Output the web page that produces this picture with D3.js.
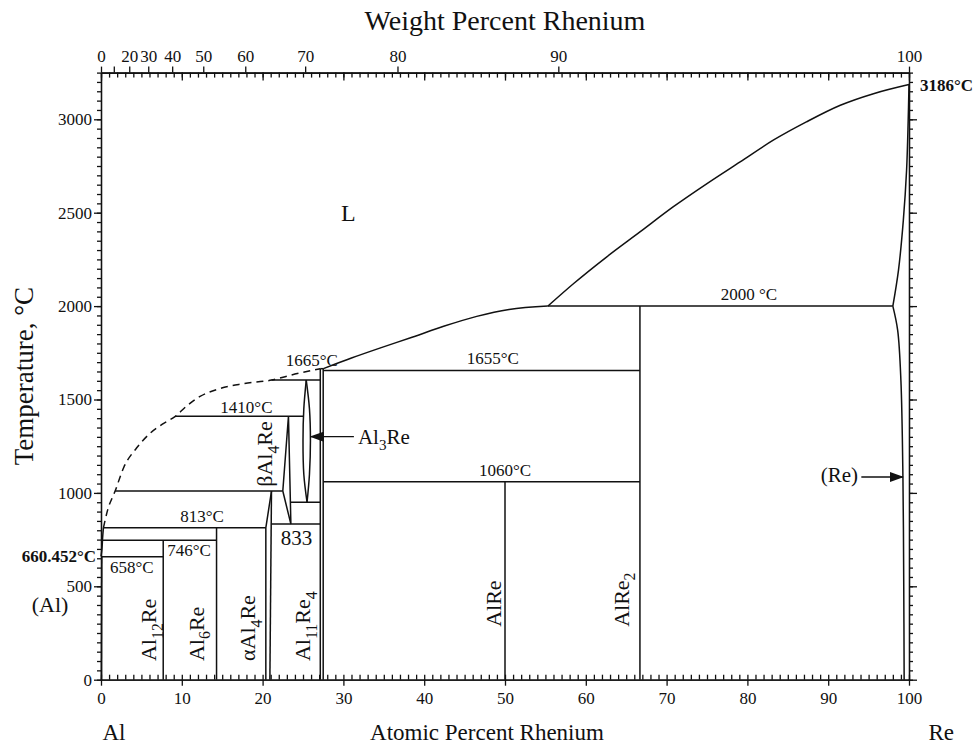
<!DOCTYPE html>
<html lang="en">
<meta charset="utf-8">
<head>
    <script src="https://d3js.org/d3.v7.min.js"></script>
</head>
<body style="margin:0;background:#fff">

<style>
	svg text {
	font-family: "Liberation Serif", "Times New Roman", serif;
	fill: #111;
	}
	.phase {
	fill: none;
	stroke: #111;
	stroke-width: 1.5;
	}
	.axis path, .axis line {
	stroke: #111;
	stroke-width: 1.3;
	}
</style>

<script>
// Al-Re phase diagram, x = atomic percent Re, y = temperature (C)

// liquidus pieces
var liqAl = [[0, 660.452], [0.12, 700], [0.2, 760], [0.3, 813]];
var liqDashed = [[0.3, 813], [0.8, 905], [1.75, 1010], [2.8, 1135], [4.4, 1240], [6.1, 1320], [7.6, 1368],
    [9.2, 1410], [10.6, 1465], [12.2, 1515], [14.5, 1556], [17.5, 1584], [21.1, 1604], [24, 1636], [27.14, 1665]];
var liqMid = [[27.5, 1665], [31, 1722], [34.5, 1775], [38.5, 1833], [42.5, 1893], [46.5, 1945], [50.5, 1982], [55.3, 2000]];
var liqHigh = [[55.3, 2000], [58.5, 2121], [62.6, 2264], [66.7, 2397], [70.8, 2531], [75, 2656], [79.1, 2772],
    [83.2, 2888], [87.3, 2986], [91.5, 3075], [95.6, 3137], [100, 3186]];
// (Re) side
var reSolidus = [[100, 3186], [99.9, 2995], [99.7, 2727], [99.3, 2460], [98.7, 2193], [98.0, 2000]];
var reSolvus = [[98.0, 2000], [98.6, 1870], [99.0, 1600], [99.25, 1080], [99.35, 500], [99.4, 0]];
// (Al) solvus
var alSolvus = [[0.05, 0], [0.1, 658]];

// horizontal invariant lines: [from at%, to at%, temperature]
var isotherms = [[0.1, 7.7, 658], [0.15, 14.3, 746], [0.3, 20.4, 813], [1.75, 22.5, 1010],
    [9.2, 25.05, 1410], [21.1, 27.14, 1604], [23.44, 27.14, 950], [21.05, 27.14, 833],
    [27.14, 27.5, 1665], [27.5, 66.7, 1655], [27.5, 66.7, 1060], [55.3, 98.0, 2000]];

// compounds (vertical lines): [at%, top temperature]
var compounds = [[7.7, 746], [14.3, 813], [27.14, 1665], [27.5, 1665], [50, 1060], [66.7, 2000]];

// other boundaries
var alpha4Left = [[20.4, 0], [20.4, 813], [21.1, 1010]];
var alpha4Right = [[20.9, 0], [21.1, 1010]];
var beta4 = [[22.5, 1010], [23.2, 1410], [23.5, 833], [22.5, 1010]];
var al3ReLeft = [[25.4, 1604], [25.1, 1450], [25.0, 1280], [25.1, 1100], [25.5, 950]];
var al3ReRight = [[25.4, 1604], [25.8, 1450], [25.92, 1280], [25.8, 1100], [25.5, 950]];

// arrows: [from, to]
var arrows = [[[31.3, 1301], [25.95, 1301]], [[94.1, 1085], [99.25, 1085]]];

// text labels
var tempLabels = [["2000 °C", 80.2, 2033], ["1655°C", 48.5, 1690], ["1060°C", 50, 1090], ["1665°C", 26.1, 1679],
    ["1410°C", 18.0, 1428], ["813°C", 12.5, 846], ["746°C", 10.9, 660], ["658°C", 3.8, 570]];
var phaseLabels = [
    {parts: [["Al", 0], ["12", 1], ["Re", 0]], at: 6.8, t: 100},
    {parts: [["Al", 0], ["6", 1], ["Re", 0]], at: 12.7, t: 100},
    {parts: [["αAl", 0], ["4", 1], ["Re", 0]], at: 19.1, t: 100},
    {parts: [["Al", 0], ["11", 1], ["Re", 0], ["4", 1]], at: 25.9, t: 100},
    {parts: [["AlRe", 0]], at: 49.5, t: 283},
    {parts: [["AlRe", 0], ["2", 1]], at: 65.3, t: 283},
    {parts: [["βAl", 0], ["4", 1], ["Re", 0]], at: 21.2, t: 1033}
];

// axis ticks
var tempTicks = [0, 500, 1000, 1500, 2000, 2500, 3000];
var atTicks = [0, 10, 20, 30, 40, 50, 60, 70, 80, 90, 100];
var wtTicks = [0, 10, 20, 30, 40, 50, 60, 70, 80, 90, 100];
var wtLabels = ["0", "", "20", "30", "40", "50", "60", "70", "80", "90", "100"];

// atomic masses for the weight percent scale
var massAl = 26.9815, massRe = 186.207;
function wtToAt(w) {
    var nRe = w / massRe, nAl = (100 - w) / massAl;
    return 100 * nRe / (nRe + nAl);
}

var width = 976, height = 744;
var serif = '"Liberation Serif", "Times New Roman", serif';
var x = d3.scaleLinear().domain([0, 100]).range([101, 909]);
var y = d3.scaleLinear().domain([0, 3250]).range([679.7, 72.6]);

var svg = d3.select("body").append("svg")
    .attr("width", width)
    .attr("height", height);

var line = d3.line()
    .x(function(d) { return x(d[0]); })
    .y(function(d) { return y(d[1]); });
var curve = d3.line()
    .x(function(d) { return x(d[0]); })
    .y(function(d) { return y(d[1]); })
    .curve(d3.curveCatmullRom);
var mono = d3.line()
    .x(function(d) { return x(d[0]); })
    .y(function(d) { return y(d[1]); })
    .curve(d3.curveMonotoneX);

function tickText(sel) {
    sel.attr("font-family", null);
    sel.selectAll("text").style("font-size", "17px").style("font-family", serif).attr("fill", "#111");
}

// axes
var minorT = d3.range(0, 3251, 50);
var minorA = d3.range(0, 101, 1);

svg.append("g").attr("class", "axis")
    .attr("transform", "translate(" + x(0) + ",0)")
    .call(d3.axisLeft(y).tickValues(minorT).tickSize(4).tickSizeOuter(0).tickFormat(""));
svg.append("g").attr("class", "axis")
    .attr("transform", "translate(" + x(0) + ",0)")
    .call(d3.axisLeft(y).tickValues(tempTicks).tickSize(7).tickSizeOuter(0).tickPadding(2).tickFormat(d3.format("d")))
    .call(tickText);

svg.append("g").attr("class", "axis")
    .attr("transform", "translate(" + x(100) + ",0)")
    .call(d3.axisRight(y).tickValues(minorT).tickSize(4).tickSizeOuter(0).tickFormat(""));
svg.append("g").attr("class", "axis")
    .attr("transform", "translate(" + x(100) + ",0)")
    .call(d3.axisRight(y).tickValues(tempTicks).tickSize(8).tickSizeOuter(0).tickFormat(""));

// bottom: minor ticks inside, major ticks crossing
svg.append("g").attr("class", "axis")
    .attr("transform", "translate(0," + y(0) + ")")
    .call(d3.axisBottom(x).tickValues(minorA).tickSize(-5).tickSizeOuter(0).tickFormat(""));
svg.append("g").attr("class", "axis")
    .attr("transform", "translate(0," + y(0) + ")")
    .call(d3.axisBottom(x).tickValues(atTicks).tickSize(6).tickSizeOuter(0).tickPadding(6).tickFormat(d3.format("d")))
    .call(tickText);

// top: at% ticks inside, wt% ticks outside with labels
svg.append("g").attr("class", "axis")
    .attr("transform", "translate(0," + y(3250) + ")")
    .call(d3.axisTop(x).tickValues(minorA).tickSize(-5).tickSizeOuter(0).tickFormat(""));
svg.append("g").attr("class", "axis")
    .attr("transform", "translate(0," + y(3250) + ")")
    .call(d3.axisTop(x).tickValues(atTicks).tickSize(-8).tickSizeOuter(0).tickFormat(""));
svg.append("g").attr("class", "axis")
    .attr("transform", "translate(0," + y(3250) + ")")
    .call(d3.axisTop(x).tickValues(wtTicks.map(wtToAt)).tickSize(6).tickSizeOuter(0).tickPadding(5)
        .tickFormat(function(d, i) { return wtLabels[i]; }))
    .call(tickText);

// phase boundaries
var g = svg.append("g");
g.append("path").attr("class", "phase").attr("d", curve(liqAl));
g.append("path").attr("class", "phase").attr("d", mono(liqDashed)).attr("stroke-dasharray", "7,5");
g.append("path").attr("class", "phase").attr("d", mono(liqMid));
g.append("path").attr("class", "phase").attr("d", mono(liqHigh));
g.append("path").attr("class", "phase").attr("d", curve(reSolidus));
g.append("path").attr("class", "phase").attr("d", curve(reSolvus));
g.append("path").attr("class", "phase").attr("d", line(alSolvus));
g.append("path").attr("class", "phase").attr("d", line(alpha4Left));
g.append("path").attr("class", "phase").attr("d", line(alpha4Right));
g.append("path").attr("class", "phase").attr("d", line(beta4));
g.append("path").attr("class", "phase").attr("d", curve(al3ReLeft));
g.append("path").attr("class", "phase").attr("d", curve(al3ReRight));

g.selectAll("line.iso")
    .data(isotherms)
    .enter()
    .append("line")
    .attr("class", "phase")
    .attr("x1", function(d) { return x(d[0]); })
    .attr("x2", function(d) { return x(d[1]); })
    .attr("y1", function(d) { return y(d[2]); })
    .attr("y2", function(d) { return y(d[2]); });

g.selectAll("line.cmp")
    .data(compounds)
    .enter()
    .append("line")
    .attr("class", "phase")
    .attr("x1", function(d) { return x(d[0]); })
    .attr("x2", function(d) { return x(d[0]); })
    .attr("y1", y(0))
    .attr("y2", function(d) { return y(d[1]); });

// arrows
svg.append("defs").append("marker")
    .attr("id", "head")
    .attr("markerUnits", "userSpaceOnUse")
    .attr("markerWidth", 14).attr("markerHeight", 10)
    .attr("refX", 13).attr("refY", 5)
    .attr("orient", "auto")
    .append("path").attr("d", "M0,0L14,5L0,10Z").attr("fill", "#111");
g.selectAll("line.arrow")
    .data(arrows)
    .enter()
    .append("line")
    .attr("stroke", "#111").attr("stroke-width", 1.4)
    .attr("x1", function(d) { return x(d[0][0]); })
    .attr("y1", function(d) { return y(d[0][1]); })
    .attr("x2", function(d) { return x(d[1][0]); })
    .attr("y2", function(d) { return y(d[1][1]); })
    .attr("marker-end", "url(#head)");

// temperature labels
svg.selectAll("text.tl")
    .data(tempLabels)
    .enter()
    .append("text")
    .attr("x", function(d) { return x(d[1]); })
    .attr("y", function(d) { return y(d[2]); })
    .attr("text-anchor", "middle")
    .style("font-size", "17px")
    .text(function(d) { return d[0]; });

// phase labels (rotated, with subscripts)
function chem(t, parts, size) {
    parts.forEach(function(p, i) {
        var prev = i > 0 ? parts[i - 1][1] : 0;
        var s = t.append("tspan").text(p[0]);
        if (p[1]) s.style("font-size", (size * 0.72) + "px").attr("dy", (size * 0.3) + "px");
        else if (prev) s.attr("dy", (-size * 0.3) + "px");
    });
}
phaseLabels.forEach(function(p) {
    var px = x(p.at), py = y(p.t);
    var t = svg.append("text")
        .attr("x", px).attr("y", py)
        .attr("transform", "rotate(-90," + px + "," + py + ")")
        .style("font-size", "22px");
    chem(t, p.parts, 22);
});

var al3 = svg.append("text").attr("x", x(31.8)).attr("y", y(1262)).style("font-size", "21px");
chem(al3, [["Al", 0], ["3", 1], ["Re", 0]], 21);

svg.append("text").attr("x", x(93.7)).attr("y", y(1058)).attr("text-anchor", "end")
    .style("font-size", "21px").text("(Re)");
svg.append("text").attr("x", x(24.2)).attr("y", y(721)).attr("text-anchor", "middle")
    .style("font-size", "21px").text("833");
svg.append("text").attr("x", x(30.6)).attr("y", y(2455)).attr("text-anchor", "middle")
    .style("font-size", "24px").text("L");

// end point labels
svg.append("text").attr("x", x(0) - 5).attr("y", y(660.452) + 6).attr("text-anchor", "end")
    .style("font-size", "17px").style("font-weight", "bold").text("660.452°C");
svg.append("text").attr("x", x(100) + 11).attr("y", y(3186) + 6)
    .style("font-size", "17px").style("font-weight", "bold").text("3186°C");
svg.append("text").attr("x", 50).attr("y", y(360)).attr("text-anchor", "middle")
    .style("font-size", "22px").text("(Al)");

// axis titles
svg.append("text").attr("x", (x(0) + x(100)) / 2).attr("y", 30).attr("text-anchor", "middle")
    .style("font-size", "28px").text("Weight Percent Rhenium");
svg.append("text").attr("x", 487).attr("y", 740).attr("text-anchor", "middle")
    .style("font-size", "23px").text("Atomic Percent Rhenium");
svg.append("text").attr("x", x(1.6)).attr("y", 740).attr("text-anchor", "middle")
    .style("font-size", "23px").text("Al");
svg.append("text").attr("x", x(104)).attr("y", 740).attr("text-anchor", "middle")
    .style("font-size", "23px").text("Re");
svg.append("text")
    .attr("transform", "translate(33," + ((y(0) + y(3250)) / 2) + ") rotate(-90)")
    .attr("text-anchor", "middle")
    .style("font-size", "27px").text("Temperature, °C");
</script>
</body>
</html>
